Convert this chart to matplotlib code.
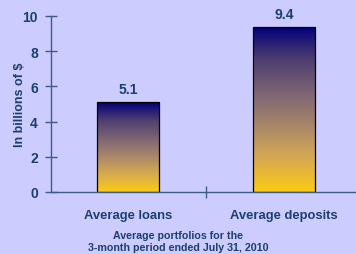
import numpy as np
import matplotlib.pyplot as plt
from matplotlib.colors import LinearSegmentedColormap

plt.rcParams['font.family'] = ['Liberation Sans', 'DejaVu Sans']
plt.rcParams['font.weight'] = 'bold'

categories = ["Average loans", "Average deposits"]
values = [5.1, 9.4]
labels = ["5.1", "9.4"]

bg = "#CCCCFF"
txt = "#1B3F6E"
axc = "#3D5A8A"

fig = plt.figure(figsize=(3.56, 2.55), dpi=100, facecolor=bg)
ax = fig.add_axes([51/356, 1-193/255, 1-51/356, 176/255])
ax.set_facecolor(bg)

x = np.arange(len(categories))
bars = ax.bar(x, values, width=0.4, color="none", edgecolor="black", linewidth=0.9, zorder=3)

# gradient fill: gold at bottom, navy at top
cmap = LinearSegmentedColormap.from_list("g", ["#FCCB14", "#D7AA50", "#A8866A", "#7C6474", "#4E3E70", "#00007A"])
grad = np.linspace(0, 1, 256).reshape(-1, 1)
for b in bars:
    x0, w, h = b.get_x(), b.get_width(), b.get_height()
    im = ax.imshow(grad, cmap=cmap, origin="lower", aspect="auto",
                   extent=[x0, x0 + w, 0, h], zorder=2)
    im.set_clip_path(b)

for xi, v, lab in zip(x, values, labels):
    ax.text(xi, v + 0.74, lab, ha="center", va="center", fontsize=10, color=txt, fontweight="bold")

ax.set_xlim(-0.494, 1.46)
ax.set_ylim(0, 10)
ax.set_yticks([0, 2, 4, 6, 8, 10])
ax.set_xticks([0.5])
ax.set_xticklabels([""])
ax.tick_params(axis="y", direction="inout", length=9, width=1, color=axc, labelcolor=txt, labelsize=10, pad=5)
ax.tick_params(axis="x", direction="inout", length=8, width=1, color=axc)
for s in ["top", "right"]:
    ax.spines[s].set_visible(False)
for s in ["left", "bottom"]:
    ax.spines[s].set_color(axc)
    ax.spines[s].set_linewidth(1)

for xi, c in zip(x, categories):
    ax.text(xi, -1.3, c, ha="center", va="center", fontsize=9.4, color=txt, fontweight="bold")

ax.set_ylabel("In billions of $", fontsize=9, color=txt, fontweight="bold")
ax.yaxis.set_label_coords(-0.102, 0.503)
ax.yaxis.label.set_va("center")

fig.text(0.5, 1-236/255, "Average portfolios for the", ha="center", va="center", fontsize=7.7, color=txt, fontweight="bold")
fig.text(0.5, 1-248/255, "3-month period ended July 31, 2010", ha="center", va="center", fontsize=7.7, color=txt, fontweight="bold")

fig.savefig("out.png", dpi=100, facecolor=bg)
